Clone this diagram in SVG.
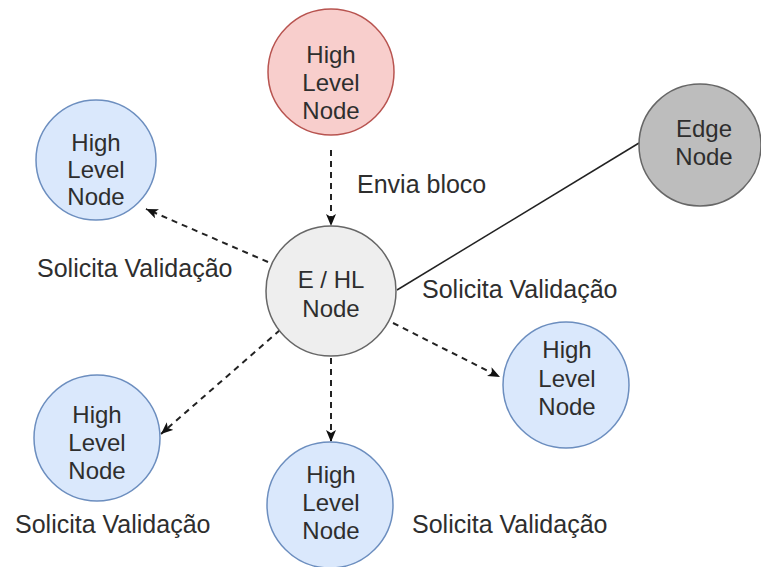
<svg xmlns="http://www.w3.org/2000/svg" width="761" height="567" viewBox="0 0 761 567">
<defs>
<style>
.t{font-family:"Liberation Sans",Arial,sans-serif;fill:#2e2e2e;text-anchor:middle;font-size:24px}
.lbl{font-family:"Liberation Sans",Arial,sans-serif;fill:#2e2e2e;font-size:25px}
.blue{fill:#dae8fc;stroke:#6c8ebf;stroke-width:1.5}
.red{fill:#f8cecc;stroke:#b85450;stroke-width:1.5}
.gray{fill:#eeeeee;stroke:#666666;stroke-width:1.5}
.dark{fill:#bdbdbd;stroke:#666666;stroke-width:1.5}
.dash{fill:none;stroke:#222222;stroke-width:2;stroke-dasharray:6 5;marker-end:url(#arr)}
.solid{fill:none;stroke:#222222;stroke-width:1.5}
</style>
<marker id="arr" markerUnits="userSpaceOnUse" markerWidth="14" markerHeight="12" refX="12" refY="5" orient="auto">
<path d="M0,0 L12,5 L0,10 L3,5 z" fill="#111111"/>
</marker>
</defs>
<rect width="761" height="567" fill="#ffffff"/>
<g id="connectors">
<line class="dash" x1="331" y1="150" x2="331" y2="226"/>
<line class="dash" x1="268" y1="262" x2="146" y2="209"/>
<line class="solid" x1="397" y1="290" x2="639" y2="143"/>
<line class="dash" x1="280" y1="330" x2="161" y2="434"/>
<line class="dash" x1="331" y1="358" x2="331" y2="442"/>
<line class="dash" x1="393" y1="323" x2="500" y2="377"/>
</g>
<g id="node-top">
<circle class="red" cx="331" cy="72" r="63"/>
<text class="t" x="331" y="63">High</text>
<text class="t" x="331" y="91">Level</text>
<text class="t" x="331" y="119">Node</text>
</g>
<g id="node-topleft">
<circle class="blue" cx="96" cy="160" r="60"/>
<text class="t" x="96" y="151">High</text>
<text class="t" x="96" y="178">Level</text>
<text class="t" x="96" y="205">Node</text>
</g>
<g id="node-center">
<circle class="gray" cx="331" cy="291" r="65"/>
<text class="t" x="331" y="288">E / HL</text>
<text class="t" x="331" y="317">Node</text>
</g>
<g id="node-edge">
<circle class="dark" cx="700" cy="145" r="61"/>
<text class="t" x="704" y="137">Edge</text>
<text class="t" x="704" y="165">Node</text>
</g>
<g id="node-right">
<circle class="blue" cx="566" cy="385" r="63"/>
<text class="t" x="567" y="358">High</text>
<text class="t" x="567" y="387">Level</text>
<text class="t" x="567" y="415">Node</text>
</g>
<g id="node-bottomleft">
<circle class="blue" cx="97" cy="438" r="63"/>
<text class="t" x="97" y="423">High</text>
<text class="t" x="97" y="451">Level</text>
<text class="t" x="97" y="479">Node</text>
</g>
<g id="node-bottom">
<circle class="blue" cx="330" cy="505" r="63"/>
<text class="t" x="331" y="483">High</text>
<text class="t" x="331" y="511">Level</text>
<text class="t" x="331" y="539">Node</text>
</g>
<g id="labels">
<text class="lbl" x="357" y="193">Envia bloco</text>
<text class="lbl" x="37" y="277">Solicita Validação</text>
<text class="lbl" x="422" y="298">Solicita Validação</text>
<text class="lbl" x="15" y="533">Solicita Validação</text>
<text class="lbl" x="412" y="533">Solicita Validação</text>
</g>
</svg>
